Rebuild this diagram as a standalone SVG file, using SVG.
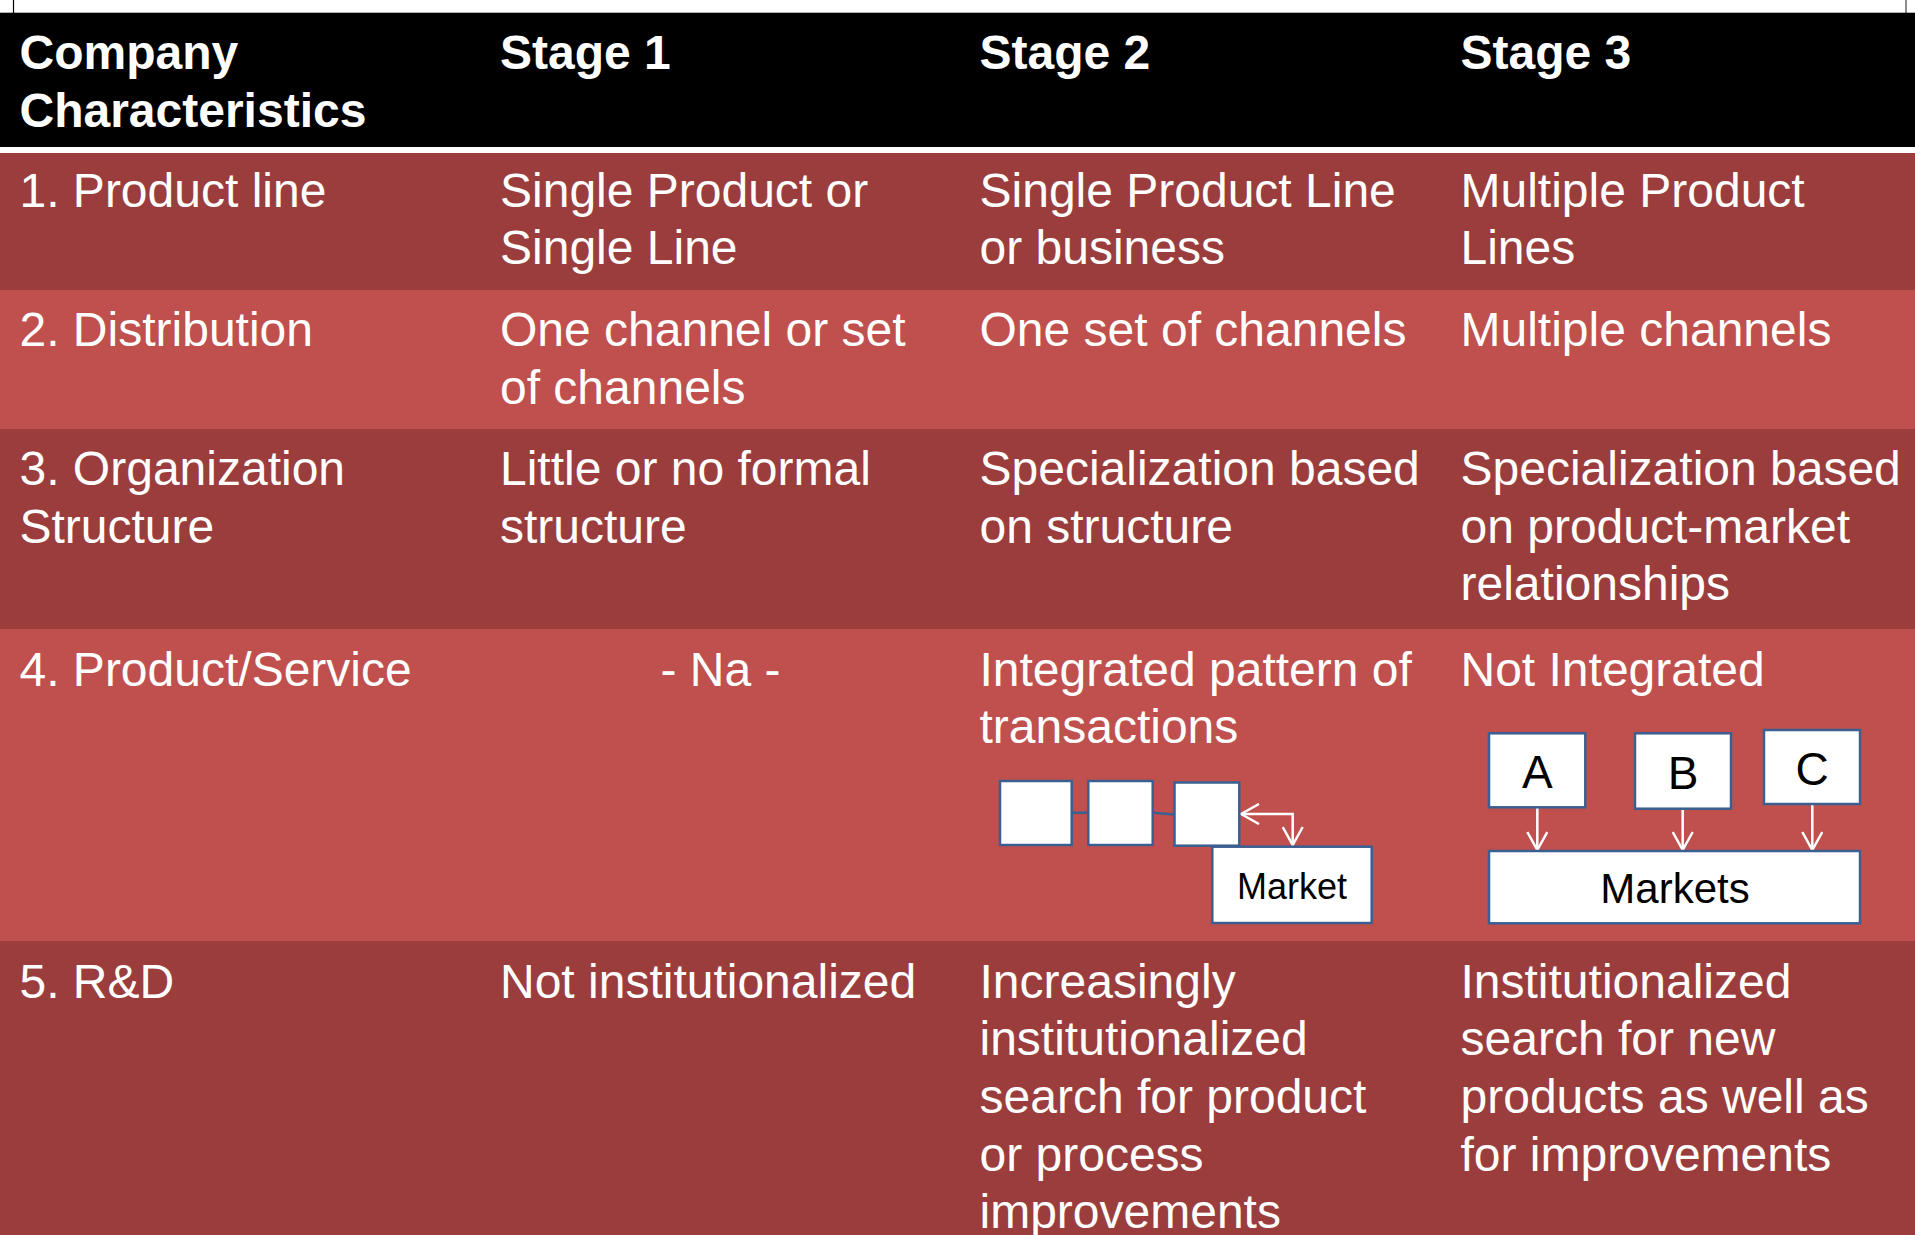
<svg xmlns="http://www.w3.org/2000/svg" width="1915" height="1235" viewBox="0 0 1915 1235">
<style>
  text { font-family: "Liberation Sans", Arial, sans-serif; }
  .cell { fill: #ffffff; font-size: 48px; }
  .head { fill: #ffffff; font-size: 48px; font-weight: bold; }
  .dark { fill: #9A3D3C; }
  .light { fill: #C0504D; }
  .box { fill: #ffffff; stroke: #3B5F91; stroke-width: 2.5; }
  .lbl { fill: #000000; text-anchor: middle; }
  .link { stroke: #3B5F91; stroke-width: 2.5; fill: none; }
  .arrow { stroke: #ffffff; stroke-width: 2.5; fill: none; }
</style>
<defs>
  <marker id="vhead" viewBox="0 0 20 22" refX="19" refY="11" markerWidth="20" markerHeight="22" markerUnits="userSpaceOnUse" orient="auto-start-reverse">
    <path d="M1,1 L19,11 L1,21" fill="none" stroke="#ffffff" stroke-width="2.5"/>
  </marker>
</defs>

<rect x="0" y="0" width="1915" height="1235" fill="#ffffff"/>
<line x1="13.5" y1="0" x2="13.5" y2="13" stroke="#000000" stroke-width="1.2"/>
<line x1="1906" y1="0" x2="1906" y2="13" stroke="#666666" stroke-width="1.5"/>

<g id="header">
  <rect x="0" y="12.7" width="1915" height="134.5" fill="#000000"/>
  <rect x="0" y="147" width="1915" height="6" fill="#ffffff"/>
  <text class="head" x="19.5" y="68.5">Company</text>
  <text class="head" x="19.5" y="126.5">Characteristics</text>
  <text class="head" x="500" y="68.5">Stage 1</text>
  <text class="head" x="979.5" y="68.5">Stage 2</text>
  <text class="head" x="1460.5" y="68.5">Stage 3</text>
</g>

<g id="row1">
  <rect class="dark" x="0" y="153" width="1915" height="137"/>
  <text class="cell" x="19.5" y="206.7">1. Product line</text>
  <text class="cell" x="500" y="206.7">Single Product or</text>
  <text class="cell" x="500" y="264.3">Single Line</text>
  <text class="cell" x="979.5" y="206.7">Single Product Line</text>
  <text class="cell" x="979.5" y="264.3">or business</text>
  <text class="cell" x="1460.5" y="206.7">Multiple Product</text>
  <text class="cell" x="1460.5" y="264.3">Lines</text>
</g>

<g id="row2">
  <rect class="light" x="0" y="290" width="1915" height="139"/>
  <text class="cell" x="19.5" y="346">2. Distribution</text>
  <text class="cell" x="500" y="346">One channel or set</text>
  <text class="cell" x="500" y="403.6">of channels</text>
  <text class="cell" x="979.5" y="346">One set of channels</text>
  <text class="cell" x="1460.5" y="346">Multiple channels</text>
</g>

<g id="row3">
  <rect class="dark" x="0" y="429" width="1915" height="200"/>
  <text class="cell" x="19.5" y="485">3. Organization</text>
  <text class="cell" x="19.5" y="542.6">Structure</text>
  <text class="cell" x="500" y="485">Little or no formal</text>
  <text class="cell" x="500" y="542.6">structure</text>
  <text class="cell" x="979.5" y="485">Specialization based</text>
  <text class="cell" x="979.5" y="542.6">on structure</text>
  <text class="cell" x="1460.5" y="485">Specialization based</text>
  <text class="cell" x="1460.5" y="542.6">on product-market</text>
  <text class="cell" x="1460.5" y="600.2">relationships</text>
</g>

<g id="row4">
  <rect class="light" x="0" y="629" width="1915" height="312"/>
  <text class="cell" x="19.5" y="685.7">4. Product/Service</text>
  <text class="cell" x="720.5" y="685.7" text-anchor="middle">- Na -</text>
  <text class="cell" x="979.5" y="685.7">Integrated pattern of</text>
  <text class="cell" x="979.5" y="743.3">transactions</text>
  <text class="cell" x="1460.5" y="685.7">Not Integrated</text>
</g>

<g id="row5">
  <rect class="dark" x="0" y="941" width="1915" height="294"/>
  <text class="cell" x="19.5" y="997.7">5. R&amp;D</text>
  <text class="cell" x="500" y="997.7">Not institutionalized</text>
  <text class="cell" x="979.5" y="997.7">Increasingly</text>
  <text class="cell" x="979.5" y="1055.3">institutionalized</text>
  <text class="cell" x="979.5" y="1112.9">search for product</text>
  <text class="cell" x="979.5" y="1170.5">or process</text>
  <text class="cell" x="979.5" y="1228.1">improvements</text>
  <text class="cell" x="1460.5" y="997.7">Institutionalized</text>
  <text class="cell" x="1460.5" y="1055.3">search for new</text>
  <text class="cell" x="1460.5" y="1112.9">products as well as</text>
  <text class="cell" x="1460.5" y="1170.5">for improvements</text>
</g>

<g id="connectors">
  <line class="link" x1="1071.7" y1="812.7" x2="1088.3" y2="812.7"/>
  <line class="link" x1="1152.7" y1="812.7" x2="1174.5" y2="814.5"/>
  <path class="arrow" d="M1241,814 L1292.7,814 L1292.7,845" marker-start="url(#vhead)" marker-end="url(#vhead)"/>
  <line class="arrow" x1="1537.3" y1="808" x2="1537.3" y2="850" marker-end="url(#vhead)"/>
  <line class="arrow" x1="1682.7" y1="810" x2="1682.7" y2="850" marker-end="url(#vhead)"/>
  <line class="arrow" x1="1812.3" y1="805" x2="1812.3" y2="850" marker-end="url(#vhead)"/>
</g>

<g id="s2-box1"><rect class="box" x="1000" y="781" width="71.7" height="64"/></g>
<g id="s2-box2"><rect class="box" x="1088.3" y="781" width="64.4" height="64"/></g>
<g id="s2-box3"><rect class="box" x="1174.5" y="782.5" width="64.8" height="63.2"/></g>
<g id="s2-market">
  <rect class="box" x="1212.3" y="846.7" width="159.4" height="76.3"/>
  <text class="lbl" x="1292" y="899" font-size="36">Market</text>
</g>

<g id="s3-a">
  <rect class="box" x="1489" y="733.3" width="96.3" height="74"/>
  <text class="lbl" x="1537.3" y="787.7" font-size="46">A</text>
</g>
<g id="s3-b">
  <rect class="box" x="1635" y="733.3" width="96" height="75.4"/>
  <text class="lbl" x="1683" y="789" font-size="46">B</text>
</g>
<g id="s3-c">
  <rect class="box" x="1764" y="730" width="96" height="74"/>
  <text class="lbl" x="1812" y="785" font-size="46">C</text>
</g>
<g id="s3-markets">
  <rect class="box" x="1489" y="851" width="371" height="72.3"/>
  <text class="lbl" x="1675" y="903.3" font-size="42">Markets</text>
</g>
</svg>
